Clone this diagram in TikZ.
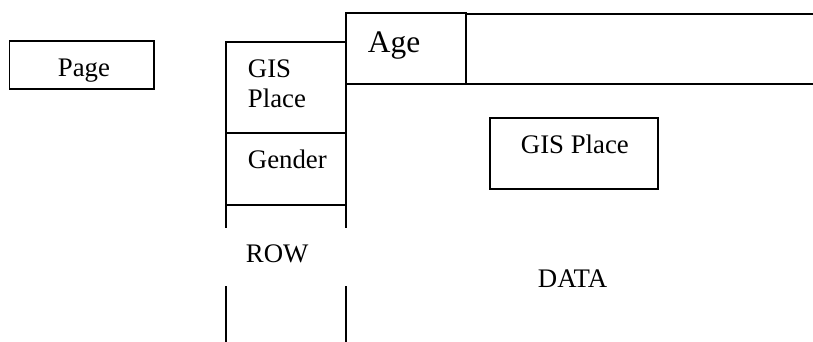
\documentclass[tikz,border=0pt]{standalone}
\usepackage{fontspec}
\setmainfont{Liberation Serif}
\usepackage{tikz}

\begin{document}
\begin{tikzpicture}[x=0.5pt, y=-0.5pt, line width=0.9pt,
    lbl/.style={anchor=base west, inner sep=0pt, font=\fontsize{13.4}{15}\selectfont},
    biglbl/.style={lbl, font=\fontsize{15.7}{17}\selectfont}]
    \useasboundingbox (0,0) rectangle (813,342);
    % page box
    \draw (9.5,40.7) rectangle (154,88.7);
    \node[lbl] (page) at (57,76) {Page};
    % row header column
    \draw (226,342) -- (226,42.3) -- (346,42.3);
    \draw (226,132.7) -- (346,132.7);
    \draw (226,204.7) -- (346,204.7);
    \node[lbl, align=left] (gisleft) at (247,108) {GIS\\Place};
    \node[lbl] (gender) at (247,168.3) {Gender};
    % column header
    \draw (346,12.7) rectangle (465.7,84.3);
    \draw (465.7,14.3) -- (813,14.3);
    \draw (346,84.3) -- (813,84.3);
    \draw (346,12.7) -- (346,342);
    \node[biglbl] (age) at (367,53) {Age};
    % row label on white patch
    \fill[white] (225,228.3) rectangle (347.6,285.7);
    \node[lbl] (row) at (245,262.3) {ROW};
    % data area
    \draw (489.7,117.7) rectangle (658.3,188.7);
    \node[lbl] (gisdata) at (520,154) {GIS Place};
    \node[lbl] (data) at (537,287) {DATA};
\end{tikzpicture}
\end{document}
